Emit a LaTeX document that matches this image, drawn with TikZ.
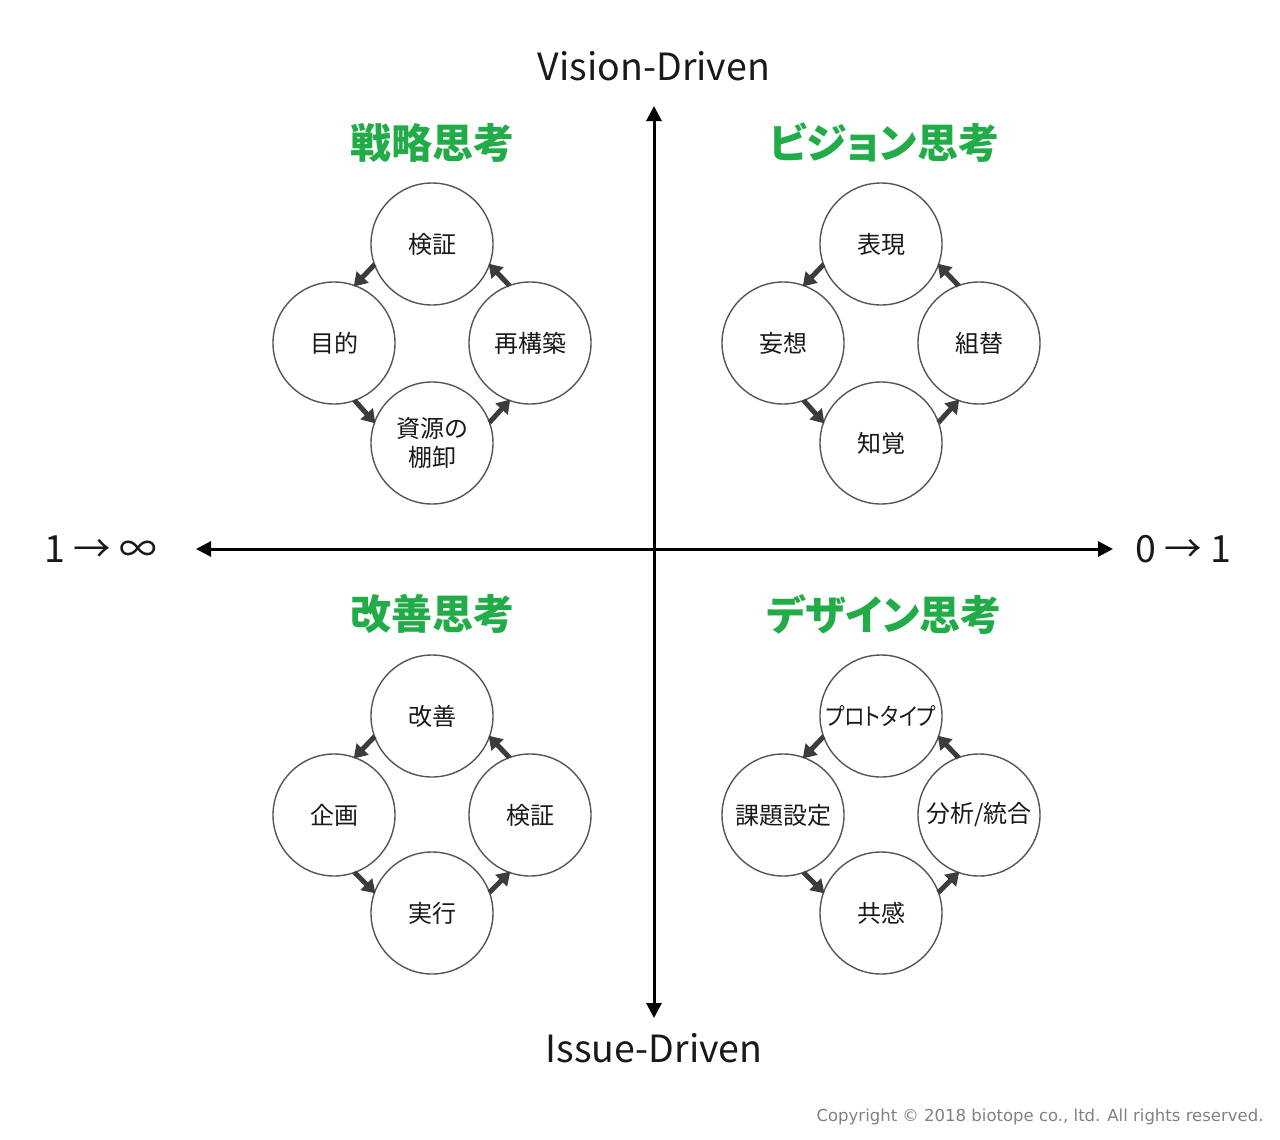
\documentclass[tikz,border=0pt]{standalone}
\usepackage{fontspec}
\usepackage{graphicx}
\setmainfont{Noto Sans CJK JP}
\newfontfamily\paltfont[RawFeature=+palt]{Noto Sans CJK JP}
\newfontfamily\copyfont{DejaVu Sans}
\usetikzlibrary{arrows.meta}
\definecolor{titlegreen}{RGB}{34,172,72}
\definecolor{ringgray}{RGB}{85,85,85}
\definecolor{arrowgray}{RGB}{60,60,60}
\tikzset{
  axis/.style={line width=3pt, -{Triangle[length=15pt,width=15pt]}},
  ring/.style={circle, draw=ringgray, line width=1.4pt, minimum size=122pt, inner sep=0pt, align=center, font=\paltfont\fontsize{24}{29}\selectfont, text=black!90},
  flow/.style={draw=arrowgray, line width=5pt, -{Triangle[length=13pt,width=16pt]}, shorten >=-2pt, shorten <=-1pt},
  title/.style={font=\paltfont\fontsize{41}{44}\selectfont\bfseries, text=titlegreen},
  axlabel/.style={font=\fontsize{37.5}{40}\selectfont, text=black!90}
}
\newcommand{\cycle}[6]{%
  \node[ring] (#1t) at (#2,#3-99) {#4};
  \node[ring] (#1l) at (#2-98,#3) {#5};
  \node[ring] (#1r) at (#2+98,#3) {#6};
}
\newcommand{\cyclearrows}[1]{%
  \draw[flow] (#1t.200) -- (#1l.70);
  \draw[flow] (#1l.-70) -- (#1b.160);
  \draw[flow] (#1b.20) -- (#1r.-110);
  \draw[flow] (#1r.110) -- (#1t.-20);
}
\begin{document}
\begin{tikzpicture}[x=1pt,y=-1pt]
\useasboundingbox (0,0) rectangle (1280,1140);
% axes
\coordinate (o) at (654,549);
\node[axlabel] (vd) at (654,66) {Vision-Driven};
\node[axlabel] (id) at (654,1048) {Issue-Driven};
\node[axlabel] (inf) at (101,549) {1 → ∞};
\node[axlabel] (zo) at (1183,549) {0 → 1};
\coordinate (up) at (654,106);
\coordinate (dn) at (654,1018);
\coordinate (lf) at (196,549);
\coordinate (rt) at (1113,549);
\draw[axis] (o) -- (up);
\draw[axis] (o) -- (dn);
\draw[axis] (o) -- (lf);
\draw[axis] (o) -- (rt);
% titles
\node[title] (t1) at (432,143) {戦略思考};
\node[title] (t2) at (884,143) {ビジョン思考};
\node[title] (t3) at (432,614) {改善思考};
\node[title] (t4) at (884,614) {デザイン思考};
% cycles
\cycle{a}{432}{343}{検証}{目的}{再構築}
\node[ring] (ab) at (432,443) {資源の\\棚卸};
\cyclearrows{a}
\cycle{b}{881}{343}{表現}{妄想}{組替}
\node[ring] (bb) at (881,443) {知覚};
\cyclearrows{b}
\cycle{c}{432}{815}{改善}{企画}{検証}
\node[ring] (cb) at (432,913) {実行};
\cyclearrows{c}
\cycle{d}{881}{815}{\scalebox{0.86}[1]{プロトタイプ}}{課題設定}{分析/統合}
\node[ring] (db) at (881,913) {共感};
\cyclearrows{d}
% copyright
\node[anchor=east, text=black!50, font=\copyfont\fontsize{16.5}{18}\selectfont] (cp) at (1267,1117) {Copyright © 2018 biotope co., ltd. All rights reserved.};
\end{tikzpicture}
\end{document}
